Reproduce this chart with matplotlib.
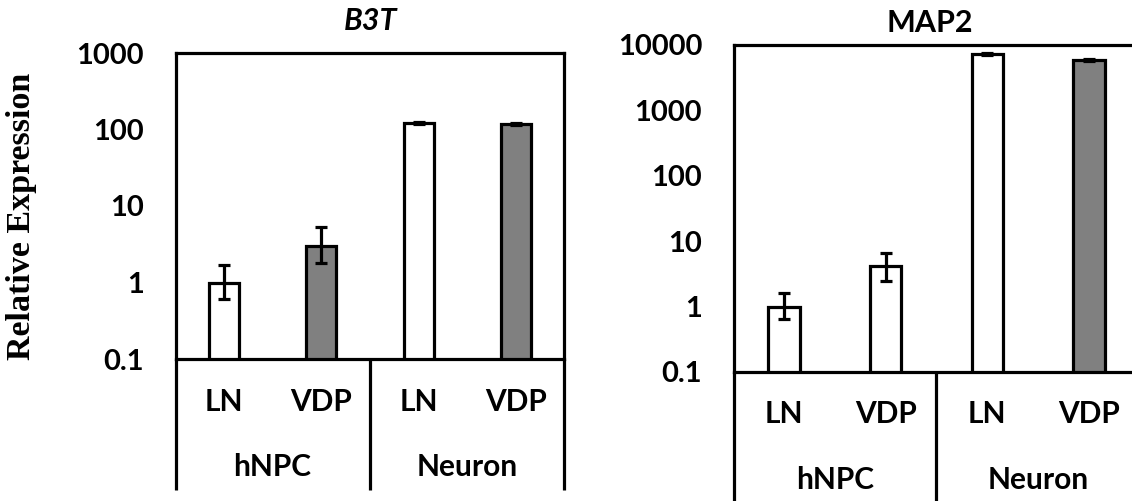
import matplotlib
matplotlib.use("Agg")
import matplotlib.pyplot as plt
import numpy as np

conditions = ["LN", "VDP", "LN", "VDP"]
groups = ["hNPC", "Neuron"]

b3t_values = [1.0, 3.0, 122, 118]
b3t_err_low = [0.4, 1.2, 3, 3]
b3t_err_high = [0.7, 2.3, 3, 3]
b3t_colors = ["white", "#808080", "white", "#808080"]

map2_values = [1.0, 4.2, 7280, 5900]
map2_err_low = [0.35, 1.7, 300, 250]
map2_err_high = [0.6, 2.4, 300, 250]
map2_colors = ["white", "white", "white", "#808080"]

FONT = ["Lato", "DejaVu Sans"]
LW = 2.3
W, H = 1132, 501

fig = plt.figure(figsize=(W / 100, H / 100), dpi=100)

def panel(px, values, lo, hi, colors, ylim, ticks, ticklabels, xlim,
          lab_y, grp_y, line_bottom, verts):
    l, t, r, b = px
    ax = fig.add_axes([l / W, 1 - b / H, (r - l) / W, (b - t) / H])
    x = np.arange(len(values))
    ax.bar(x, values, width=0.31, color=colors, edgecolor="black",
           linewidth=LW, zorder=2)
    ax.errorbar(x, values, yerr=[lo, hi], fmt="none", ecolor="black",
                elinewidth=LW, capsize=4.5, capthick=LW, zorder=3)
    ax.set_yscale("log")
    ax.set_ylim(*ylim)
    ax.set_xlim(*xlim)
    ax.set_yticks(ticks)
    ax.set_yticklabels(ticklabels, fontfamily=FONT, fontweight="bold", fontsize=21)
    ax.minorticks_off()
    ax.tick_params(axis="y", length=0, pad=23)
    ax.set_xticks([])
    for s in ax.spines.values():
        s.set_linewidth(LW)
    tr = ax.get_xaxis_transform()
    for vx in verts:
        ax.plot([vx, vx], [0, line_bottom], transform=tr, color="black",
                lw=LW, clip_on=False, solid_capstyle="butt")
    for xi, c in zip(x, conditions):
        ax.text(xi, lab_y, c, transform=tr, ha="center", va="center",
                fontfamily=FONT, fontweight="bold", fontsize=21.5)
    for gx, g in zip([0.5, 2.5], groups):
        ax.text(gx, grp_y, g, transform=tr, ha="center", va="center",
                fontfamily=FONT, fontweight="bold", fontsize=21.5)
    return ax

ax1 = panel((176, 53, 564, 359),
            b3t_values, b3t_err_low, b3t_err_high, b3t_colors,
            (0.1, 1000), [0.1, 1, 10, 100, 1000], ["0.1", "1", "10", "100", "1000"],
            (-0.49, 3.49), -0.14, -0.353, -0.428, [-0.49, 1.5, 3.49])
ax1.set_ylabel("Relative Expression", fontfamily=["Liberation Serif", "DejaVu Serif"],
               fontweight="bold", fontsize=24.5)
ax1.yaxis.set_label_coords(-0.358, 0.467)

ax2 = panel((734, 45, 1140, 372),
            map2_values, map2_err_low, map2_err_high, map2_colors,
            (0.1, 10000), [0.1, 1, 10, 100, 1000, 10000],
            ["0.1", "1", "10", "100", "1000", "10000"],
            (-0.49, 3.5), -0.128, -0.33, -0.45, [-0.49, 1.5, 3.5])

fig.text(371 / W, 1 - 21 / H, "B3T", ha="center", va="center", fontfamily=FONT,
         fontweight="bold", fontstyle="italic", fontsize=22)
fig.text(930 / W, 1 - 23 / H, "MAP2", ha="center", va="center", fontfamily=FONT,
         fontweight="bold", fontsize=22)

fig.savefig("out.png", dpi=100)
